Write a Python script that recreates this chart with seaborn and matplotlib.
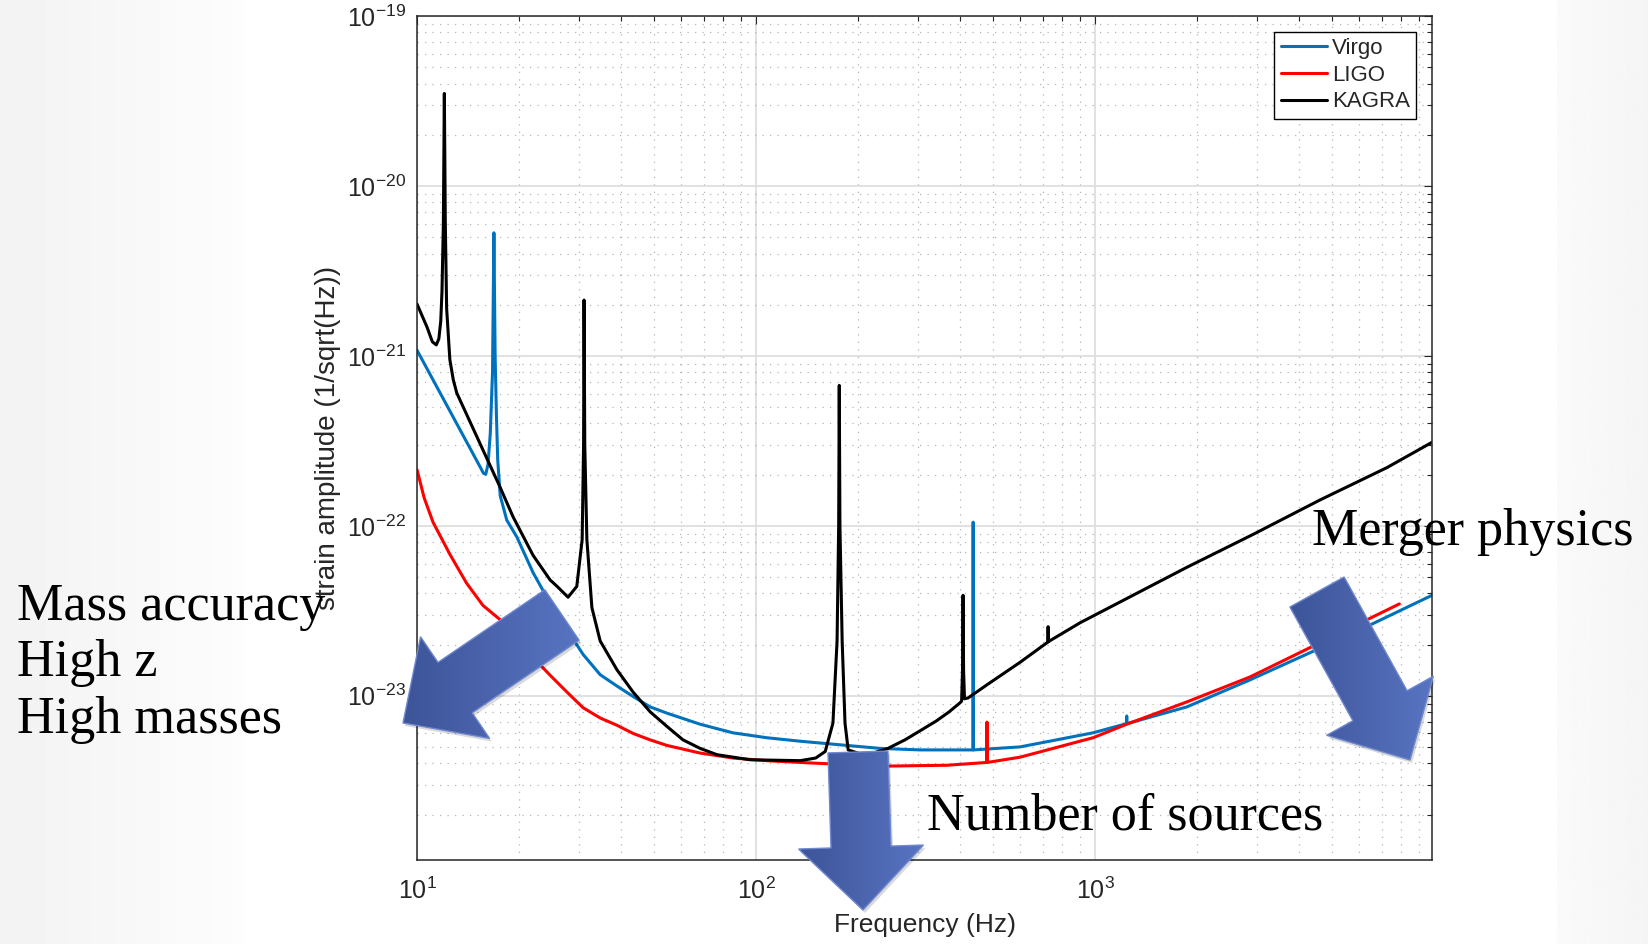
import numpy as np
import pandas as pd
import matplotlib.pyplot as plt
import seaborn as sns
from matplotlib.patches import Polygon
from matplotlib.colors import LinearSegmentedColormap
from matplotlib.ticker import LogLocator, LogFormatterSciNotation, NullFormatter

# design sensitivity curves (Hz, strain / sqrt(Hz))
virgo_f = [10, 15.3, 15.7, 15.95, 16.2, 16.45, 16.7, 16.86, 17.0, 17.15, 17.3, 17.6, 18.4, 19.7,
           22, 24.7, 27.7, 30.9, 34.7, 38.9, 43.4, 48.7, 54.6, 68.4, 85.5, 107.7, 135, 232, 305,
           436, 437, 438, 601, 986, 1238, 1240, 1242, 1866, 2865, 5650, 9860]
virgo_h = [1.08e-21, 2.25e-22, 2.04e-22, 2.01e-22, 2.3e-22, 3.5e-22, 8e-22, 5.3e-21, 1.0e-21, 4.5e-22,
           2.45e-22, 1.5e-22, 1.08e-22, 8.6e-23, 5.3e-23, 3.5e-23, 2.45e-23, 1.75e-23, 1.33e-23,
           1.14e-23, 9.9e-24, 8.6e-24, 7.9e-24, 6.8e-24, 6.05e-24, 5.66e-24, 5.4e-24, 4.9e-24,
           4.8e-24, 4.8e-24, 1.05e-22, 4.8e-24, 5.0e-24, 6.05e-24, 6.85e-24, 7.6e-24, 6.85e-24,
           8.6e-24, 1.24e-23, 2.29e-23, 3.9e-23]

ligo_f = [10, 10.5, 11.15, 12.5, 14.0, 15.65, 17.6, 19.7, 22, 24.7, 27.7, 30.9, 34.7, 38.9, 43.4,
          48.7, 54.6, 68.4, 85.5, 107, 135, 232, 366, 479, 480, 481, 601, 986, 1240, 1866, 2865,
          7900]
ligo_h = [2.14e-22, 1.46e-22, 1.05e-22, 6.8e-23, 4.6e-23, 3.4e-23, 2.8e-23, 2.13e-23, 1.68e-23,
          1.32e-23, 1.05e-23, 8.5e-24, 7.4e-24, 6.7e-24, 6.0e-24, 5.5e-24, 5.1e-24, 4.6e-24, 4.3e-24,
          4.15e-24, 4.05e-24, 3.85e-24, 3.9e-24, 4.05e-24, 7.0e-24, 4.05e-24, 4.35e-24, 5.66e-24,
          6.8e-24, 9.2e-24, 1.29e-23, 3.47e-23]

kagra_f = [10, 10.7, 11.1, 11.4, 11.6, 11.75, 11.85, 11.96, 12.04, 12.12, 12.23, 12.5, 12.8, 13.1,
           17.6, 19.2, 22, 24.7, 25.9, 27.9, 29.6, 30.7, 31.0, 31.1, 31.25, 31.7, 32.8, 34.7, 38.9,
           43.4, 48.7, 54.6, 60.9, 68.4, 76.7, 96, 135, 150, 160, 168.6, 173.4, 175.3, 176, 176.8,
           179.5, 183, 187, 210, 245, 275, 308, 340, 370, 400, 404, 406.5, 408, 409.5, 412, 422,
           480, 600, 726, 727, 728, 904, 1866, 2925, 4610, 7260, 9860]
kagra_h = [2.02e-21, 1.48e-21, 1.21e-21, 1.16e-21, 1.26e-21, 1.6e-21, 2.4e-21, 6e-21, 3.5e-20,
           6e-21, 1.9e-21, 9.5e-22, 7.2e-22, 6.05e-22, 1.68e-22, 1.13e-22, 6.7e-23, 4.8e-23,
           4.4e-23, 3.8e-23, 4.4e-23, 8.3e-23, 3e-22, 2.13e-21, 3e-22, 8.3e-23, 3.3e-23, 2.1e-23,
           1.42e-23, 1.05e-23, 8.05e-24, 6.6e-24, 5.5e-24, 4.9e-24, 4.5e-24, 4.2e-24, 4.15e-24,
           4.3e-24, 4.7e-24, 6.9e-24, 2.1e-23, 1e-22, 6.7e-22, 1e-22, 2.1e-23, 6.9e-24, 4.8e-24,
           4.45e-24, 4.9e-24, 5.5e-24, 6.3e-24, 7.1e-24, 8.0e-24, 9.1e-24, 9.3e-24, 1.4e-23,
           3.9e-23, 1.4e-23, 9.6e-24, 9.7e-24, 1.16e-23, 1.57e-23, 2.07e-23, 2.55e-23, 2.08e-23,
           2.69e-23, 5.7e-23, 8.9e-23, 1.42e-22, 2.2e-22, 3.1e-22]

detectors = ['Virgo', 'LIGO', 'KAGRA']
colors = ['#0072BD', '#FF0000', '#000000']
xticks = [1e1, 1e2, 1e3]
yticks = [1e-23, 1e-22, 1e-21, 1e-20, 1e-19]

notes_left = ['Mass accuracy', 'High z', 'High masses']
note_right = 'Merger physics'
note_bottom = 'Number of sources'

sns.set_style('white')
plt.rcParams['font.family'] = ['Liberation Sans', 'DejaVu Sans']
plt.rcParams['axes.unicode_minus'] = False
serif = ['Liberation Serif', 'DejaVu Serif']

df = pd.concat([
    pd.DataFrame({'freq': virgo_f, 'strain': virgo_h, 'detector': 'Virgo'}),
    pd.DataFrame({'freq': ligo_f, 'strain': ligo_h, 'detector': 'LIGO'}),
    pd.DataFrame({'freq': kagra_f, 'strain': kagra_h, 'detector': 'KAGRA'}),
], ignore_index=True)

W, H = 1648, 944
fig = plt.figure(figsize=(W / 100, H / 100), dpi=100)

# slide background (pixel coords)
bg = fig.add_axes([0, 0, 1, 1], zorder=-2)
bg.axis('off')
bg.imshow(np.linspace(0.95, 0.99, 64)[None, :], cmap='gray', vmin=0, vmax=1,
          extent=(0, 244, H, 0), aspect='auto')
bg.imshow(np.linspace(0.98, 0.96, 64)[None, :], cmap='gray', vmin=0, vmax=1,
          extent=(1557, W, H, 0), aspect='auto')
bg.set_xlim(0, W); bg.set_ylim(H, 0)

ax = fig.add_axes([417 / W, 1 - 860 / H, (1432 - 417) / W, (860 - 16) / H])
ax.set_facecolor('white')
ax.set_xscale('log'); ax.set_yscale('log')
sns.lineplot(data=df, x='freq', y='strain', hue='detector', hue_order=detectors,
             palette=dict(zip(detectors, colors)), estimator=None, sort=False,
             lw=2.2, ax=ax)
ax.set_xlim(10, 9860)
ax.set_ylim(1.08e-24, 1e-19)

ax.set_xticks(xticks)
ax.set_yticks(yticks)
ax.xaxis.set_minor_locator(LogLocator(base=10, subs=np.arange(2, 10), numticks=50))
ax.yaxis.set_minor_locator(LogLocator(base=10, subs=np.arange(2, 10), numticks=50))
ax.xaxis.set_major_formatter(LogFormatterSciNotation())
ax.yaxis.set_major_formatter(LogFormatterSciNotation())
ax.xaxis.set_minor_formatter(NullFormatter())
ax.yaxis.set_minor_formatter(NullFormatter())

ax.set_axisbelow(True)
ax.grid(True, which='major', color='#dcdcdc', lw=1.2, ls='-')
ax.grid(True, which='minor', color='#b5b5b5', lw=0.9, ls=(0, (1, 5)))
ax.tick_params(which='both', direction='in', top=True, right=True, color='#262626',
               labelcolor='#262626', width=0.8, labelsize=18)
ax.tick_params(which='major', length=6)
ax.tick_params(which='minor', length=3.5)
ax.tick_params(axis='y', pad=8)
ax.tick_params(axis='x', pad=13)
for s in ax.spines.values():
    s.set_color('#262626'); s.set_linewidth(1.1)

ax.set_xlabel('Frequency (Hz)', fontsize=19, color='#262626')
ax.set_ylabel('strain amplitude (1/sqrt(Hz))', fontsize=20, color='#262626')
ax.xaxis.set_label_coords(0.5, -0.063)
ax.yaxis.set_label_coords(-0.075, 0.5)

handles, labels = ax.get_legend_handles_labels()
leg = ax.legend(handles, labels, loc='upper right', fontsize=16, frameon=True, fancybox=False,
                edgecolor='black', framealpha=1, borderaxespad=0.7, handlelength=2.1,
                handletextpad=0.2, labelspacing=0.25, borderpad=0.3)
leg.get_frame().set_linewidth(1.0)

# overlay: arrows and slide notes, pixel coords
ov = fig.add_axes([0, 0, 1, 1], zorder=5)
ov.patch.set_alpha(0); ov.axis('off')

arrow_cmap = LinearSegmentedColormap.from_list('arr', ['#3D5498', '#5874C2'])


def block_arrow(tail, tip, shaft_w, head_w, head_len):
    tail = np.array(tail, float); tip = np.array(tip, float)
    u = (tip - tail) / np.linalg.norm(tip - tail)
    n = np.array([-u[1], u[0]])
    neck = tip - u * head_len
    return np.array([tail + n * shaft_w / 2, neck + n * shaft_w / 2, neck + n * head_w / 2, tip,
                     neck - n * head_w / 2, neck - n * shaft_w / 2, tail - n * shaft_w / 2])


arrows = [((562, 615), (403, 723), 61, 123, 63),
          ((858, 752), (863, 910), 60, 125, 63),
          ((1317, 592), (1410, 760), 62, 122, 62)]
grad = np.linspace(0, 1, 128)[None, :]
for a in arrows:
    pts = block_arrow(*a)
    ov.add_patch(Polygon(pts + [2, 3], closed=True, fc='black', ec='none', alpha=0.15))
    poly = Polygon(pts, closed=True, fc='none', ec='#6F88CF', lw=1.0, zorder=3)
    ov.add_patch(poly)
    x0, y0 = pts.min(axis=0); x1, y1 = pts.max(axis=0)
    im = ov.imshow(grad, cmap=arrow_cmap, extent=(x0, x1, y1, y0), aspect='auto', zorder=2)
    im.set_clip_path(poly)

for i, t in enumerate(notes_left):
    ov.text(17, [620, 676, 733][i], t, family=serif, fontsize=37.5, va='baseline', color='black')
ov.text(1312, 545, note_right, family=serif, fontsize=37.5, va='baseline', color='black')
ov.text(927, 830, note_bottom, family=serif, fontsize=37.5, va='baseline', color='black')
ov.set_xlim(0, W); ov.set_ylim(H, 0)

fig.savefig('out.png', dpi=100, facecolor='white')
